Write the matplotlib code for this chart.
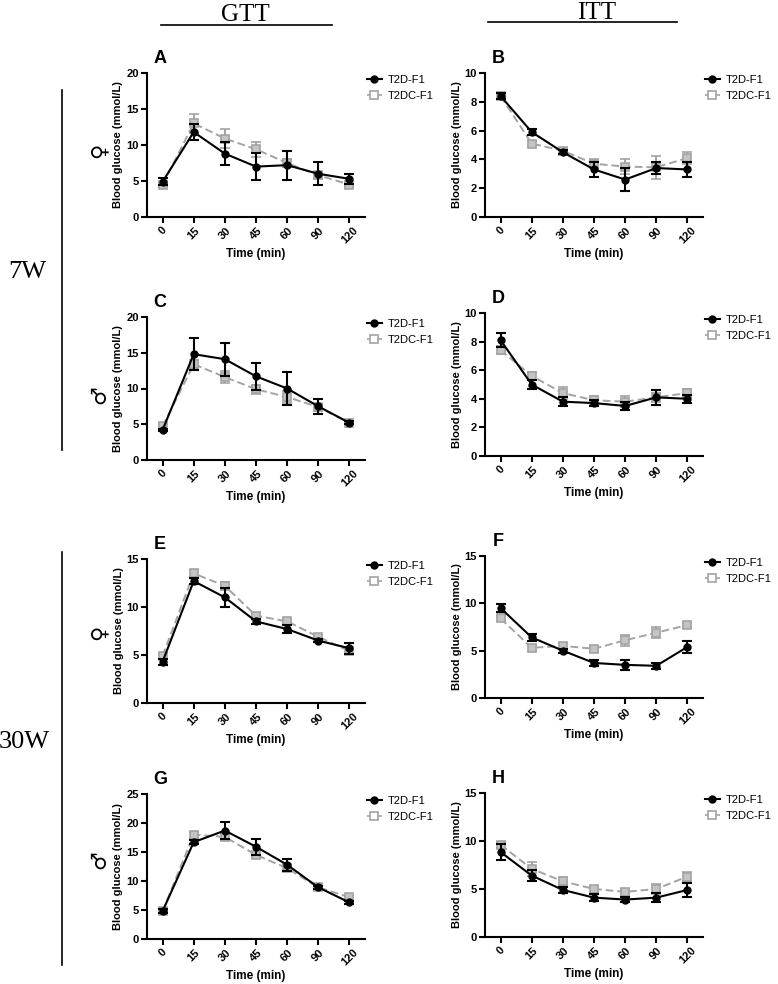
import numpy as np
import matplotlib
matplotlib.use('Agg')
import matplotlib.pyplot as plt
from matplotlib.lines import Line2D

plt.rcParams['font.family'] = ['Liberation Sans', 'DejaVu Sans']

times = ['0', '15', '30', '45', '60', '90', '120']

# A: GTT 7W female
a_t2d = [4.9, 11.8, 8.8, 7.0, 7.2, 6.0, 5.3]
a_t2d_err = [0.5, 1.1, 1.6, 1.9, 2.0, 1.6, 0.7]
a_t2dc = [4.5, 13.0, 10.9, 9.4, 7.5, 5.8, 4.5]
a_t2dc_err = [0.3, 1.3, 1.3, 1.0, 0.6, 0.5, 0.3]

# B: ITT 7W female
b_t2d = [8.4, 5.9, 4.5, 3.3, 2.6, 3.4, 3.3]
b_t2d_err = [0.2, 0.2, 0.15, 0.5, 0.8, 0.4, 0.5]
b_t2dc = [8.4, 5.1, 4.6, 3.7, 3.5, 3.45, 4.1]
b_t2dc_err = [0.2, 0.15, 0.15, 0.3, 0.5, 0.8, 0.4]

# C: GTT 7W male
c_t2d = [4.2, 14.8, 14.1, 11.7, 10.0, 7.5, 5.2]
c_t2d_err = [0.2, 2.2, 2.3, 1.9, 2.3, 1.1, 0.2]
c_t2dc = [4.7, 13.4, 11.6, 9.9, 8.8, 7.4, 5.2]
c_t2dc_err = [0.3, 0.6, 0.8, 0.6, 0.8, 0.5, 0.2]

# D: ITT 7W male
d_t2d = [8.1, 5.0, 3.8, 3.7, 3.5, 4.1, 4.0]
d_t2d_err = [0.5, 0.3, 0.3, 0.2, 0.3, 0.5, 0.3]
d_t2dc = [7.4, 5.6, 4.4, 3.9, 3.8, 4.1, 4.4]
d_t2dc_err = [0.3, 0.3, 0.4, 0.3, 0.4, 0.3, 0.3]

# E: GTT 30W female
e_t2d = [4.3, 12.7, 11.0, 8.5, 7.7, 6.5, 5.7]
e_t2d_err = [0.3, 0.3, 1.0, 0.3, 0.4, 0.15, 0.6]
e_t2dc = [4.9, 13.5, 12.2, 9.1, 8.5, 6.9, 5.4]
e_t2dc_err = [0.3, 0.4, 0.4, 0.3, 0.2, 0.2, 0.3]

# F: ITT 30W female
f_t2d = [9.5, 6.4, 5.0, 3.7, 3.5, 3.4, 5.4]
f_t2d_err = [0.4, 0.4, 0.2, 0.3, 0.5, 0.3, 0.6]
f_t2dc = [8.4, 5.3, 5.5, 5.2, 6.1, 6.9, 7.7]
f_t2dc_err = [0.3, 0.3, 0.3, 0.3, 0.6, 0.6, 0.2]

# G: GTT 30W male
g_t2d = [4.8, 16.7, 18.7, 15.9, 12.8, 8.9, 6.3]
g_t2d_err = [0.3, 0.4, 1.5, 1.4, 1.0, 0.3, 0.3]
g_t2dc = [4.8, 18.0, 17.6, 14.5, 12.2, 8.9, 7.2]
g_t2dc_err = [0.3, 0.5, 0.5, 0.6, 0.5, 0.3, 0.3]

# H: ITT 30W male
h_t2d = [8.85, 6.4, 4.9, 4.1, 3.9, 4.1, 4.9]
h_t2d_err = [0.8, 0.6, 0.3, 0.4, 0.3, 0.5, 0.7]
h_t2dc = [9.6, 7.1, 5.8, 5.0, 4.7, 5.0, 6.3]
h_t2dc_err = [0.3, 0.7, 0.4, 0.3, 0.3, 0.5, 0.5]

W, H = 778, 984
fig = plt.figure(figsize=(W / 100, H / 100), dpi=100)

GRAY = '#a3a3a3'


def px_axes(left, top, right, bottom):
    return fig.add_axes([left / W, 1 - bottom / H, (right - left) / W, (bottom - top) / H])


def panel(ax, letter, t2d, t2d_err, t2dc, t2dc_err, ymax, ystep):
    x = np.arange(len(times))
    ax.errorbar(x, t2dc, yerr=t2dc_err, color=GRAY, ls='--', lw=1.4, marker='s', ms=6,
                mfc='#c4c4c4', mec=GRAY, mew=1.2, capsize=3.5, elinewidth=1.4, capthick=1.4,
                dashes=(4, 2), zorder=2)
    ax.errorbar(x, t2d, yerr=t2d_err, color='black', ls='-', lw=1.5, marker='o', ms=5,
                capsize=3.5, elinewidth=1.5, capthick=1.5, zorder=3)
    ax.set_xlim(-0.5, 6.5)
    ax.set_ylim(0, ymax)
    ax.set_yticks(np.arange(0, ymax + 0.01, ystep))
    ax.set_xticks(x)
    ax.set_xticklabels(times, rotation=45, fontweight='bold', fontsize=8)
    for lab in ax.get_yticklabels():
        lab.set_fontweight('bold')
        lab.set_fontsize(8)
    ax.spines['top'].set_visible(False)
    ax.spines['right'].set_visible(False)
    ax.spines['left'].set_linewidth(1.5)
    ax.spines['bottom'].set_linewidth(1.5)
    ax.tick_params(direction='out', width=1.5, length=4, pad=2)
    ax.set_xlabel('Time (min)', fontweight='bold', fontsize=8.5, labelpad=2)
    ax.set_ylabel('Blood glucose (mmol/L)', fontweight='bold', fontsize=8, labelpad=2)
    ax.text(0.06, 1.1, letter, transform=ax.transAxes, fontsize=13, fontweight='bold',
            ha='center', va='center')
    handles = [Line2D([], [], color='black', lw=1.5, marker='o', ms=5),
               Line2D([], [], color=GRAY, lw=1.2, ls='--', marker='s', ms=6,
                      mfc='white', mec=GRAY, mew=1.2)]
    ax.legend(handles, ['T2D-F1', 'T2DC-F1'], loc='upper left', bbox_to_anchor=(0.99, 1.02),
              frameon=False, fontsize=8, handlelength=1.3, handletextpad=0.5,
              labelspacing=0.55, borderaxespad=0.0)


axA = px_axes(147, 73, 365, 217)
axB = px_axes(485, 73, 703, 217)
axC = px_axes(147, 317, 365, 460)
axD = px_axes(485, 313, 703, 456)
axE = px_axes(147, 559, 365, 703)
axF = px_axes(485, 556, 703, 698)
axG = px_axes(147, 794, 365, 939)
axH = px_axes(485, 793, 703, 937)

panel(axA, 'A', a_t2d, a_t2d_err, a_t2dc, a_t2dc_err, 20, 5)
panel(axB, 'B', b_t2d, b_t2d_err, b_t2dc, b_t2dc_err, 10, 2)
panel(axC, 'C', c_t2d, c_t2d_err, c_t2dc, c_t2dc_err, 20, 5)
panel(axD, 'D', d_t2d, d_t2d_err, d_t2dc, d_t2dc_err, 10, 2)
panel(axE, 'E', e_t2d, e_t2d_err, e_t2dc, e_t2dc_err, 15, 5)
panel(axF, 'F', f_t2d, f_t2d_err, f_t2dc, f_t2dc_err, 15, 5)
panel(axG, 'G', g_t2d, g_t2d_err, g_t2dc, g_t2dc_err, 25, 5)
panel(axH, 'H', h_t2d, h_t2d_err, h_t2dc, h_t2dc_err, 15, 5)

# column headers
fig.text(245 / W, 1 - 15 / H, 'GTT', family='Liberation Serif', fontsize=18, ha='center', va='center')
fig.add_artist(Line2D([161 / W, 332 / W], [1 - 25 / H, 1 - 25 / H], color='black', lw=1.2))
fig.text(597 / W, 1 - 13 / H, 'ITT', family='Liberation Serif', fontsize=18, ha='center', va='center')
fig.add_artist(Line2D([488 / W, 677 / W], [1 - 22 / H, 1 - 22 / H], color='black', lw=1.2))

# row headers
fig.text(27 / W, 1 - 272 / H, '7W', family='Liberation Serif', fontsize=19, ha='center', va='center')
fig.add_artist(Line2D([62 / W, 62 / W], [1 - 90 / H, 1 - 450 / H], color='black', lw=1.2))
fig.text(24 / W, 1 - 742 / H, '30W', family='Liberation Serif', fontsize=19, ha='center', va='center')
fig.add_artist(Line2D([62 / W, 62 / W], [1 - 552 / H, 1 - 965 / H], color='black', lw=1.2))

# sex symbols
for sym, yy in [('\u2640', 150), ('\u2642', 395), ('\u2640', 632), ('\u2642', 860)]:
    fig.text(99 / W, 1 - yy / H, sym, fontsize=15, rotation=90, ha='center', va='center',
             family='DejaVu Sans')

fig.savefig('out.png', dpi=100)
